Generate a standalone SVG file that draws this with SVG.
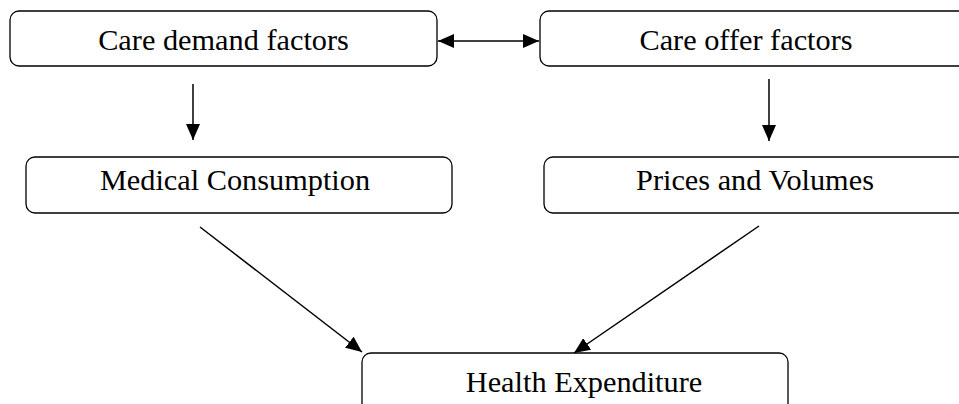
<svg xmlns="http://www.w3.org/2000/svg" width="959" height="404" viewBox="0 0 959 404">
<style>
.box{fill:#fff;stroke:#000;stroke-width:1.3}
.lbl{font-family:"Liberation Serif","Times New Roman",serif;font-size:30.3px;fill:#000;text-anchor:middle}
.con{stroke:#000;stroke-width:1.5;fill:none}
</style>
<defs>
<marker id="ah" viewBox="0 0 16 14" refX="16" refY="7" markerWidth="16" markerHeight="14" markerUnits="userSpaceOnUse" orient="auto-start-reverse">
<path d="M0,0 L16,7 L0,14 Z" fill="#000"/>
</marker>
</defs>
<rect width="959" height="404" fill="#fff"/>
<g id="n-demand"><rect class="box" x="10" y="11" width="427" height="55" rx="9"/><text class="lbl" x="223.5" y="50">Care demand factors</text></g>
<g id="n-offer"><rect class="box" x="540" y="11" width="440" height="55" rx="9"/><text class="lbl" x="746" y="50">Care offer factors</text></g>
<g id="n-medical"><rect class="box" x="26" y="157" width="426" height="56" rx="9"/><text class="lbl" x="235" y="190">Medical Consumption</text></g>
<g id="n-prices"><rect class="box" x="544" y="157" width="440" height="56" rx="9"/><text class="lbl" x="755" y="190">Prices and Volumes</text></g>
<g id="n-health"><rect class="box" x="362" y="353" width="426" height="70" rx="9"/><text class="lbl" x="584" y="392">Health Expenditure</text></g>
<g id="connectors">
<line class="con" x1="438" y1="41" x2="539" y2="41" marker-start="url(#ah)" marker-end="url(#ah)"/>
<line class="con" x1="193" y1="84" x2="193" y2="140" marker-end="url(#ah)"/>
<line class="con" x1="769" y1="79" x2="769" y2="141" marker-end="url(#ah)"/>
<line class="con" x1="200" y1="227" x2="362" y2="352" marker-end="url(#ah)"/>
<line class="con" x1="759" y1="226" x2="574" y2="353" marker-end="url(#ah)"/>
</g>
</svg>
